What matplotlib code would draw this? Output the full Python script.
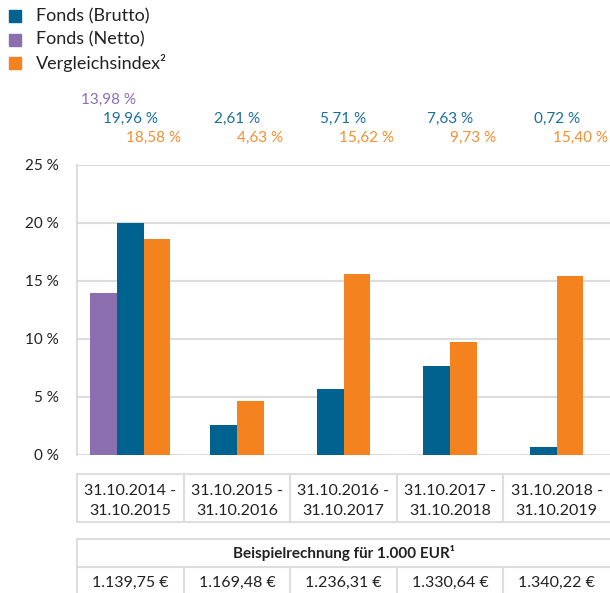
import matplotlib
matplotlib.use("Agg")
import matplotlib.pyplot as plt
from matplotlib.lines import Line2D
from matplotlib.patches import Rectangle
from matplotlib.transforms import blended_transform_factory

plt.rcParams['font.family'] = ['Lato', 'DejaVu Sans']

# data
periods = ["31.10.2014 -\n31.10.2015", "31.10.2015 -\n31.10.2016", "31.10.2016 -\n31.10.2017",
           "31.10.2017 -\n31.10.2018", "31.10.2018 -\n31.10.2019"]
brutto = [19.96, 2.61, 5.71, 7.63, 0.72]
netto = [13.98, None, None, None, None]
index_vals = [18.58, 4.63, 15.62, 9.73, 15.40]
example_eur = ["1.139,75 €", "1.169,48 €", "1.236,31 €", "1.330,64 €", "1.340,22 €"]
yticks = [0, 5, 10, 15, 20, 25]

c_brutto = "#00628f"
c_netto = "#8c6fae"
c_index = "#f4821f"
grid_c = "#dddddd"
txt_c = "#222222"

W, H = 610, 593
fig = plt.figure(figsize=(W / 100, H / 100), dpi=100)

def fx(px):
    return px / W

def fy(py):
    return 1 - py / H

ax = fig.add_axes([fx(77), fy(455), fx(533), (455 - 165) / H])
ax.set_xlim(-0.5, 4.5)
ax.set_ylim(0, 25)

bw = 0.25
for i in range(len(periods)):
    if netto[i] is not None:
        ax.bar(i - bw, netto[i], bw, color=c_netto)
        ax.bar(i, brutto[i], bw, color=c_brutto)
        ax.bar(i + bw, index_vals[i], bw, color=c_index)
    else:
        ax.bar(i - bw / 2, brutto[i], bw, color=c_brutto)
        ax.bar(i + bw / 2, index_vals[i], bw, color=c_index)

ax.set_yticks(yticks)
ax.set_yticklabels([f"{t} %" for t in yticks], fontsize=11, color=txt_c)
ax.set_xticks([])
ax.tick_params(axis='y', length=0, pad=13)
ax.grid(axis='y', color=grid_c, linewidth=1.5)
ax.set_axisbelow(True)
for s in ['top', 'right', 'bottom']:
    ax.spines[s].set_visible(False)
ax.spines['left'].set_color(grid_c)
ax.spines['left'].set_linewidth(1.5)

# value labels above chart
tr = blended_transform_factory(ax.transData, fig.transFigure)
def pct(v):
    return f"{v:.2f} %".replace(".", ",")
for i in range(len(periods)):
    if netto[i] is not None:
        ax.text(i - 0.2, fy(100), pct(netto[i]), transform=tr, ha='center', va='center',
                fontsize=11, color=c_netto, clip_on=False)
    ax.text(i, fy(119), pct(brutto[i]), transform=tr, ha='center', va='center',
            fontsize=11, color="#1a6e9c", clip_on=False)
    ax.text(i + 0.22, fy(138), pct(index_vals[i]), transform=tr, ha='center', va='center',
            fontsize=11, color="#f38f34", clip_on=False)

# legend
legend_items = [("Fonds (Brutto)", c_brutto), ("Fonds (Netto)", c_netto), ("Vergleichsindex²", c_index)]
for k, (lab, col) in enumerate(legend_items):
    yc = 16 + k * 23.5
    fig.patches.append(Rectangle((fx(9), fy(yc + 6)), fx(12), 12 / H, color=col,
                                 transform=fig.transFigure, figure=fig))
    fig.text(fx(36), fy(yc), lab, fontsize=13, color=txt_c, va='center', ha='left')

# tables below chart
def hline(y, x0=77, x1=610):
    fig.add_artist(Line2D([fx(x0), fx(x1)], [fy(y), fy(y)], color=grid_c, linewidth=1.5))

def vline(x, y0, y1):
    fig.add_artist(Line2D([fx(x), fx(x)], [fy(y0), fy(y1)], color=grid_c, linewidth=1.5))

gw = 533 / 5
hline(474)
hline(522)
hline(539)
hline(567)
vline(77, 474, 522)
vline(77, 539, 593)
for k in range(1, 5):
    vline(77 + gw * k, 474, 522)
    vline(77 + gw * k, 567, 593)

for i, p in enumerate(periods):
    xc = 77 + gw * (i + 0.5)
    fig.text(fx(xc), fy(501), p, fontsize=11.5, color=txt_c, ha='center', va='center',
             linespacing=1.5)
    fig.text(fx(xc), fy(583), example_eur[i], fontsize=11.5, color=txt_c, ha='center', va='center')

fig.text(fx(77 + 533 / 2), fy(553), "Beispielrechnung für 1.000 EUR¹", fontsize=11,
         fontweight='bold', color=txt_c, ha='center', va='center')

fig.savefig("out.png", dpi=100)
